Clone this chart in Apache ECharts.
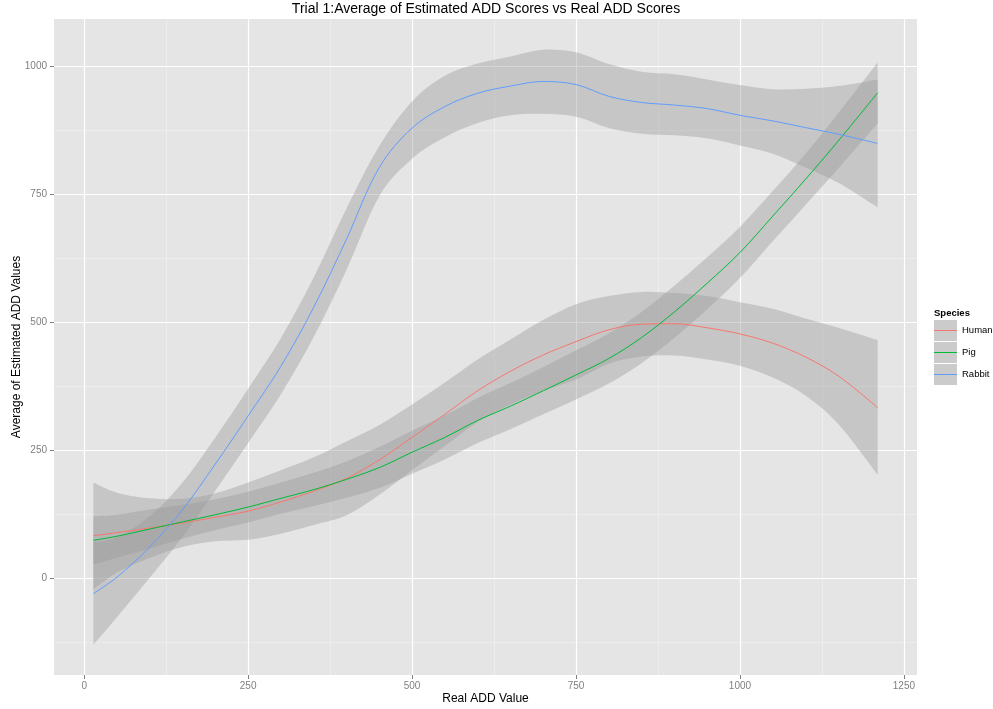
<!DOCTYPE html>
<html><head><meta charset="utf-8">
<script src="https://cdn.jsdelivr.net/npm/echarts@6/dist/echarts.min.js"></script>
<style>html,body{margin:0;padding:0;background:#fff}#c{width:993px;height:709px}</style>
</head><body><div id="c"></div>
<script>
// ---- data ----
const xValues   = [14, 50, 100, 150, 200, 250, 300, 350, 400, 450, 500, 550, 600, 650, 700, 750, 800, 850, 900, 950, 1000, 1050, 1100, 1150, 1210];

const humanMid  = [84, 90, 99, 109, 120, 132, 150, 171, 196, 232, 276, 321, 367, 405, 437, 463, 486, 497, 498, 490, 478, 460, 433, 396, 334];
const humanLo   = [-21, 12, 41, 62, 73, 76, 88, 105, 124, 164, 212, 259, 306, 340, 367, 389, 420, 434, 436, 428, 416, 393, 358, 302, 203];
const humanHi   = [188, 168, 157, 156, 167, 188, 212, 237, 268, 300, 340, 383, 428, 467, 505, 536, 552, 560, 558, 552, 540, 527, 508, 490, 466];

const pigMid    = [75, 83, 97, 111, 125, 140, 157, 174, 194, 217, 247, 276, 309, 337, 367, 398, 430, 471, 521, 577, 637, 708, 780, 855, 949];
const pigLo     = [28, 41, 59, 78, 95, 110, 127, 142, 158, 177, 205, 233, 265, 292, 321, 350, 381, 421, 470, 526, 587, 659, 730, 801, 889];
const pigHi     = [122, 125, 135, 144, 155, 170, 188, 207, 229, 257, 289, 319, 353, 382, 413, 446, 479, 521, 572, 628, 687, 757, 830, 909, 1008];

const rabbitMid = [-29, 3, 62, 135, 224, 318, 415, 530, 663, 803, 880, 922, 948, 962, 971, 965, 942, 930, 925, 918, 905, 894, 881, 868, 850];
const rabbitLo  = [-129, -75, 2, 82, 172, 265, 360, 472, 603, 747, 820, 862, 890, 905, 908, 902, 880, 869, 866, 860, 846, 830, 803, 773, 725];
const rabbitHi  = [71, 81, 122, 188, 276, 371, 470, 588, 723, 845, 932, 982, 1006, 1020, 1033, 1028, 1005, 990, 985, 975, 964, 956, 957, 962, 975];

const speciesNames  = ['Human', 'Pig', 'Rabbit'];
const speciesColors = ['#F8766D', '#00BA38', '#619CFF'];

const xTicks = [0, 250, 500, 750, 1000, 1250];
const yTicks = [0, 250, 500, 750, 1000];
const xMinor = [125, 375, 625, 875, 1125];
const yMinor = [-125, 125, 375, 625, 875];

const titleText = 'Trial 1:Average of Estimated ADD Scores vs Real ADD Scores';
const xTitle = 'Real ADD Value';
const yTitle = 'Average of Estimated ADD Values';
const legendTitle = 'Species';

// ---- chart ----
const FONT = 'Liberation Sans';
const chart = echarts.init(document.getElementById('c'), null, {renderer: 'canvas'});

// Catmull-Rom spline through screen points -> SVG path commands
function splinePath(pts, moveFirst) {
  const n = pts.length;
  let d = (moveFirst ? 'M' : 'L') + pts[0][0] + ',' + pts[0][1];
  for (let i = 0; i < n - 1; i++) {
    const p0 = pts[Math.max(i - 1, 0)], p1 = pts[i], p2 = pts[i + 1], p3 = pts[Math.min(i + 2, n - 1)];
    const c1x = p1[0] + (p2[0] - p0[0]) / 6, c1y = p1[1] + (p2[1] - p0[1]) / 6;
    const c2x = p2[0] - (p3[0] - p1[0]) / 6, c2y = p2[1] - (p3[1] - p1[1]) / 6;
    d += ' C' + c1x + ',' + c1y + ' ' + c2x + ',' + c2y + ' ' + p2[0] + ',' + p2[1];
  }
  return d;
}

function bandSeries(name, lo, hi) {
  const data = xValues.map((x, k) => [x, lo[k], hi[k]]);
  return {
    type: 'custom', name: name + ' band', data: data,
    encode: {x: 0, y: [1, 2]}, silent: true, clip: true,
    renderItem: function (params, api) {
      if (params.dataIndexInside !== 0) return null;
      const n = data.length;
      const up = [], low = [];
      for (let k = 0; k < n; k++) up.push(api.coord([api.value(0, k), api.value(2, k)]));
      for (let k = n - 1; k >= 0; k--) low.push(api.coord([api.value(0, k), api.value(1, k)]));
      const d = splinePath(up, true) + ' ' + splinePath(low, false) + ' Z';
      return {type: 'path', shape: {pathData: d}, style: {fill: 'rgba(153,153,153,0.4)'}};
    }
  };
}
function lineSeries(i, mid) {
  return {
    type: 'line', name: speciesNames[i], data: xValues.map((x, k) => [x, mid[k]]),
    smooth: 0.35, symbol: 'none', showSymbol: false,
    lineStyle: {color: speciesColors[i], width: 1}, itemStyle: {color: speciesColors[i]},
    silent: true
  };
}

const plain = v => String(v);
// thin horizontal bar centred in a 23x21 key (corner specks keep the box size)
const keyIcon = 'path://M0,0h0.01v0.01h-0.01z M0,10h23v1.1h-23z M22.99,20.99h0.01v0.01h-0.01z';

const option = {
  animation: false,
  textStyle: {fontFamily: FONT},
  title: [
    {text: titleText, left: 486, textAlign: 'center', top: 2, padding: 0,
     textStyle: {fontFamily: FONT, fontSize: 14, fontWeight: 'normal', color: '#000'}},
    {text: legendTitle, left: 934, top: 308, padding: 0,
     textStyle: {fontFamily: FONT, fontSize: 9.5, fontWeight: 'bold', color: '#000'}}
  ],
  grid: {left: 54, top: 19, width: 863, height: 656, show: true, backgroundColor: '#E5E5E5',
         borderWidth: 0, outerBoundsMode: 'none', containLabel: false},
  legend: {
    data: speciesNames, orient: 'vertical', left: 934, top: 320, padding: 0,
    itemWidth: 23, itemHeight: 21, itemGap: 1, icon: keyIcon,
    textStyle: {fontFamily: FONT, fontSize: 9.5, color: '#000'},
    selectedMode: false
  },
  graphic: speciesNames.map((s, k) => ({
    type: 'rect', left: 934, top: 320 + k * 22, z: -10,
    shape: {width: 23, height: 21}, style: {fill: '#CBCBCB'}
  })),
  xAxis: [
    {
      type: 'value', min: -46, max: 1270,
      axisLine: {show: false, onZero: false},
      axisTick: {show: true, length: 4, customValues: xTicks, lineStyle: {color: '#7f7f7f'}},
      axisLabel: {customValues: xTicks, formatter: plain, color: '#7f7f7f', fontSize: 10, margin: 6, fontFamily: FONT},
      splitLine: {show: true, lineStyle: {color: '#FFFFFF', width: 1.2}},
      name: xTitle, nameLocation: 'middle', nameGap: 18, nameMoveOverlap: false,
      nameTextStyle: {color: '#000', fontSize: 12, fontFamily: FONT}
    },
    {
      type: 'value', min: -46, max: 1270, position: 'bottom',
      axisLine: {show: false, onZero: false},
      axisTick: {show: false, customValues: xMinor},
      axisLabel: {show: false, customValues: xMinor},
      splitLine: {show: true, lineStyle: {color: '#F2F2F2', width: 0.6}}
    }
  ],
  yAxis: [
    {
      type: 'value', min: -188, max: 1093,
      axisLine: {show: false, onZero: false},
      axisTick: {show: true, length: 4, customValues: yTicks, lineStyle: {color: '#7f7f7f'}},
      axisLabel: {customValues: yTicks, formatter: plain, color: '#7f7f7f', fontSize: 10, margin: 7, fontFamily: FONT},
      splitLine: {show: true, lineStyle: {color: '#FFFFFF', width: 1.2}},
      name: yTitle, nameLocation: 'middle', nameGap: 31, nameMoveOverlap: false,
      nameTextStyle: {color: '#000', fontSize: 12, fontFamily: FONT}
    },
    {
      type: 'value', min: -188, max: 1093, position: 'left',
      axisLine: {show: false, onZero: false},
      axisTick: {show: false, customValues: yMinor},
      axisLabel: {show: false, customValues: yMinor},
      splitLine: {show: true, lineStyle: {color: '#F2F2F2', width: 0.6}}
    }
  ],
  series: [
    bandSeries('Human', humanLo, humanHi), lineSeries(0, humanMid),
    bandSeries('Pig', pigLo, pigHi), lineSeries(1, pigMid),
    bandSeries('Rabbit', rabbitLo, rabbitHi), lineSeries(2, rabbitMid)
  ]
};
chart.setOption(option);
</script>
</body></html>
